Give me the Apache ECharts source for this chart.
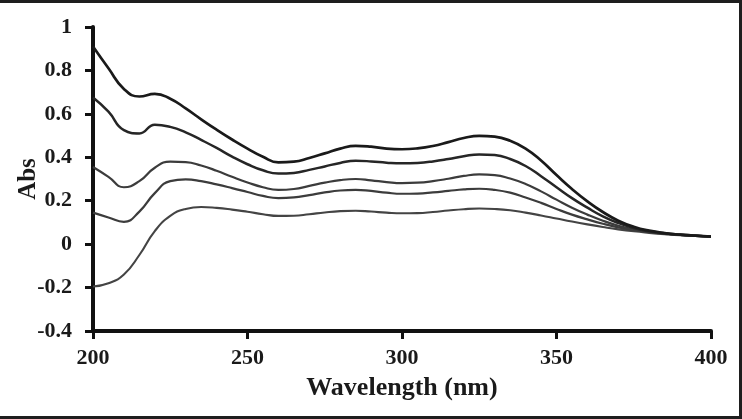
<!DOCTYPE html>
<html>
<head>
<meta charset="utf-8">
<script src="https://cdn.jsdelivr.net/npm/echarts@6/dist/echarts.min.js"></script>
<style>
html,body{margin:0;padding:0;background:#fff;}
#wrap{position:relative;width:742px;height:419px;}
#chart{position:absolute;left:0;top:0;width:742px;height:419px;}
#frame{position:absolute;left:0;top:0;width:742px;height:419px;box-sizing:border-box;border-top:3px solid #1e1e1e;border-right:3px solid #1e1e1e;border-bottom:3px solid #1e1e1e;pointer-events:none;}
</style>
</head>
<body>
<div id="wrap"><div id="chart"></div><div id="frame"></div></div>
<script>
const wavelengths = [200,205,210,215,220,225,230,235,240,245,250,255,260,265,270,275,280,285,290,295,300,305,310,315,320,325,330,335,340,345,350,355,360,365,370,375,380,385,390,395,400];
const curve1 = [0.91,0.81,0.715,0.68,0.692,0.67,0.625,0.575,0.527,0.482,0.44,0.402,0.377,0.38,0.397,0.418,0.44,0.453,0.449,0.44,0.437,0.441,0.452,0.47,0.489,0.499,0.495,0.476,0.44,0.385,0.318,0.254,0.197,0.148,0.108,0.08,0.062,0.051,0.044,0.039,0.035];
const curve2 = [0.675,0.61,0.525,0.51,0.55,0.54,0.515,0.48,0.443,0.403,0.368,0.34,0.325,0.328,0.342,0.358,0.374,0.384,0.381,0.375,0.372,0.374,0.381,0.392,0.405,0.413,0.41,0.392,0.36,0.313,0.262,0.212,0.168,0.128,0.097,0.074,0.059,0.05,0.044,0.039,0.035];
const curve3 = [0.355,0.31,0.262,0.29,0.352,0.38,0.378,0.362,0.338,0.31,0.284,0.262,0.25,0.254,0.268,0.283,0.295,0.3,0.294,0.286,0.281,0.283,0.29,0.301,0.314,0.321,0.318,0.302,0.277,0.243,0.205,0.168,0.136,0.108,0.085,0.068,0.057,0.049,0.043,0.039,0.035];
const curve4 = [0.145,0.123,0.103,0.15,0.235,0.29,0.298,0.29,0.275,0.258,0.24,0.222,0.212,0.215,0.226,0.238,0.247,0.25,0.245,0.237,0.232,0.233,0.238,0.245,0.252,0.255,0.25,0.237,0.215,0.19,0.162,0.136,0.114,0.094,0.077,0.064,0.055,0.048,0.042,0.038,0.035];
const curve5 = [-0.195,-0.18,-0.14,-0.05,0.06,0.13,0.162,0.171,0.167,0.159,0.149,0.138,0.13,0.131,0.138,0.146,0.152,0.154,0.15,0.145,0.142,0.143,0.148,0.155,0.161,0.164,0.162,0.156,0.145,0.132,0.118,0.104,0.091,0.079,0.068,0.059,0.052,0.046,0.041,0.038,0.035];
const xTicks = [200,250,300,350,400];
const yTicks = [-0.4,-0.2,0,0.2,0.4,0.6,0.8,1];

const curves = [curve1, curve2, curve3, curve4, curve5];
const colors = ['#1a1a1a','#262626','#3c3c3c','#3c3c3c','#444444'];
const widths = [2.7,2.5,2.2,2.2,2.1];

const chart = echarts.init(document.getElementById('chart'), null, {renderer:'canvas'});
const font = '"Liberation Serif","Times New Roman",serif';
chart.setOption({
  animation:false,
  backgroundColor:'#fff',
  grid:{left:93,right:31,top:27,bottom:88,containLabel:false,outerBoundsMode:'none'},
  xAxis:{
    type:'value', min:xTicks[0], max:xTicks[xTicks.length-1], interval:50,
    name:'Wavelength (nm)', nameLocation:'middle', nameGap:44,
    nameTextStyle:{fontFamily:font,fontWeight:'bold',fontSize:26,color:'#1a1a1a'},
    axisLine:{onZero:false,lineStyle:{color:'#111',width:4}},
    axisTick:{show:true,inside:false,length:8,lineStyle:{color:'#111',width:3}},
    axisLabel:{margin:16,fontFamily:font,fontWeight:'bold',fontSize:22,color:'#1a1a1a'},
    splitLine:{show:false}
  },
  yAxis:{
    type:'value', min:yTicks[0], max:yTicks[yTicks.length-1], interval:0.2,
    name:'Abs', nameLocation:'middle', nameGap:52, nameRotate:90, nameMoveOverlap:false,
    nameTextStyle:{fontFamily:font,fontWeight:'bold',fontSize:25,color:'#1a1a1a'},
    axisLine:{show:true,onZero:false,lineStyle:{color:'#111',width:4}},
    axisTick:{show:true,inside:false,length:8,lineStyle:{color:'#111',width:3}},
    axisLabel:{margin:21,fontFamily:font,fontWeight:'bold',fontSize:22,color:'#1a1a1a',
      formatter:v=>String(+(+v).toFixed(1))},
    splitLine:{show:false}
  },
  series: curves.map((c,i)=>({
    type:'line', smooth:0.5, showSymbol:false, symbol:'none',
    data: wavelengths.map((w,j)=>[w,c[j]]),
    lineStyle:{color:colors[i],width:widths[i]},
    z:10-i
  }))
});
</script>
</body>
</html>
